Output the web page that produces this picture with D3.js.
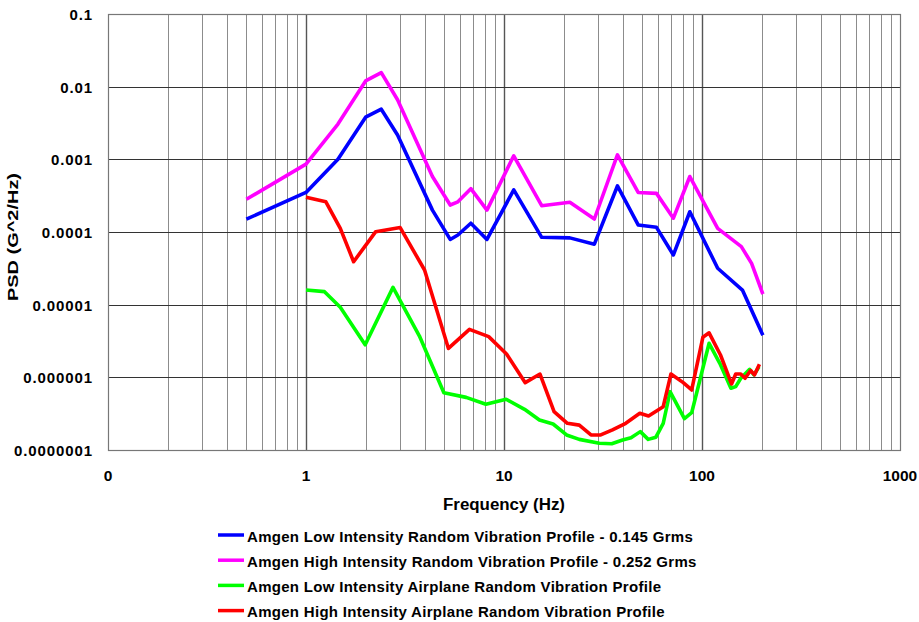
<!DOCTYPE html>
<html>
<head>
<meta charset="utf-8">
<script src="https://cdn.jsdelivr.net/npm/d3@7"></script>
<style>
  body { margin: 0; background: #fff; }
  text { font-family: "Liberation Sans", Arial, sans-serif; font-weight: bold; fill: #000; }
</style>
</head>
<body>
<script>
// x ticks / y ticks
var xTicks = [0.1, 1, 10, 100, 1000];
var xTickLabels = ["0", "1", "10", "100", "1000"];
var yTicks = [0.1, 0.01, 0.001, 0.0001, 0.00001, 0.000001, 0.0000001];
var yTickLabels = ["0.1", "0.01", "0.001", "0.0001", "0.00001", "0.000001", "0.0000001"];

// Amgen Low Intensity Random Vibration Profile - 0.145 Grms
var lowRandomFreq = [0.5, 1, 1.45, 2, 2.4, 2.9, 4.35, 5.35, 5.85, 6.8, 8.2, 11.2, 15.5, 21.5, 28.6, 37.4, 47.6, 58.9, 71.7, 86.8, 120, 160, 203];
var lowRandomPsd = [1.5e-4, 3.5e-4, 1.0e-3, 3.8e-3, 4.9e-3, 2.16e-3, 2.0e-4, 7.9e-5, 9.1e-5, 1.32e-4, 7.9e-5, 3.79e-4, 8.45e-5, 8.3e-5, 6.8e-5, 4.3e-4, 1.25e-4, 1.16e-4, 4.83e-5, 1.9e-4, 3.17e-5, 1.59e-5, 3.8e-6];

// Amgen High Intensity Random Vibration Profile - 0.252 Grms
var highRandomFreq = [0.5, 1, 1.45, 2, 2.4, 2.9, 4.35, 5.35, 5.85, 6.8, 8.2, 11.2, 15.5, 21.5, 28.6, 37.4, 47.6, 58.9, 71.7, 86.8, 120, 158, 178, 203];
var highRandomPsd = [2.82e-4, 8.6e-4, 3.06e-3, 1.2e-2, 1.56e-2, 6.6e-3, 5.8e-4, 2.35e-4, 2.6e-4, 3.95e-4, 2.0e-4, 1.12e-3, 2.3e-4, 2.56e-4, 1.51e-4, 1.15e-3, 3.5e-4, 3.4e-4, 1.55e-4, 5.8e-4, 1.12e-4, 6.3e-5, 3.7e-5, 1.4e-5];

// Amgen Low Intensity Airplane Random Vibration Profile
var lowAirFreq = [1, 1.24, 1.49, 1.99, 2.75, 3.74, 4.97, 6.44, 8.1, 10.25, 12.7, 15.1, 17.7, 20.7, 24, 30.3, 35, 39.7, 43.8, 48.8, 53.5, 58.5, 63.7, 69, 81.5, 88.7, 108.6, 123, 140, 148, 157, 163, 174, 183, 194];
var lowAirPsd = [1.59e-5, 1.51e-5, 9.2e-6, 2.8e-6, 1.73e-5, 3.7e-6, 6.15e-7, 5.3e-7, 4.26e-7, 5.0e-7, 3.63e-7, 2.59e-7, 2.28e-7, 1.61e-7, 1.4e-7, 1.24e-7, 1.22e-7, 1.37e-7, 1.47e-7, 1.79e-7, 1.4e-7, 1.5e-7, 2.33e-7, 6.35e-7, 2.7e-7, 3.26e-7, 2.94e-6, 1.56e-6, 7.07e-7, 7.45e-7, 9.7e-7, 1.08e-6, 1.29e-6, 1.08e-6, 1.4e-6];

// Amgen High Intensity Airplane Random Vibration Profile
var highAirFreq = [1, 1.26, 1.49, 1.74, 2.25, 2.99, 3.97, 5.24, 6.69, 8.37, 10.3, 12.8, 15.2, 17.9, 20.9, 24, 27.5, 30.8, 35.3, 41.2, 48.5, 53.7, 63.7, 69.7, 80.4, 88.7, 101, 108.6, 124, 141, 148, 157, 165, 176, 184, 195];
var highAirPsd = [3.0e-4, 2.6e-4, 1.12e-4, 3.9e-5, 1.01e-4, 1.15e-4, 3.0e-5, 2.5e-6, 4.58e-6, 3.63e-6, 2.1e-6, 8.45e-7, 1.11e-6, 3.37e-7, 2.33e-7, 2.2e-7, 1.61e-7, 1.61e-7, 1.89e-7, 2.33e-7, 3.2e-7, 2.94e-7, 3.95e-7, 1.11e-6, 8.45e-7, 6.7e-7, 3.56e-6, 4.1e-6, 2.03e-6, 8.1e-7, 1.11e-6, 1.11e-6, 9.7e-7, 1.24e-6, 1.08e-6, 1.51e-6];

var seriesNames = [
  "Amgen Low Intensity Random Vibration Profile - 0.145 Grms",
  "Amgen High Intensity Random Vibration Profile - 0.252 Grms",
  "Amgen Low Intensity Airplane Random Vibration Profile",
  "Amgen High Intensity Airplane Random Vibration Profile"
];
var seriesColors = ["#0000ff", "#ff00ff", "#00ff00", "#ff0000"];

function zip(fs, ps) {
  return fs.map(function(f, i) { return {f: f, p: ps[i]}; });
}
var series = [
  zip(lowRandomFreq, lowRandomPsd),
  zip(highRandomFreq, highRandomPsd),
  zip(lowAirFreq, lowAirPsd),
  zip(highAirFreq, highAirPsd)
];

var w = 919, h = 622;
var margin = {left: 108, right: 19, top: 14, bottom: 172};

var x = d3.scaleLog().domain([0.1, 1000]).range([margin.left, w - margin.right]);
var y = d3.scaleLog().domain([0.0000001, 0.1]).range([h - margin.bottom, margin.top]);

var svg = d3.select('body').append("svg").attr("width", w).attr("height", h);

// minor vertical grid
var minor = [];
[0.1, 1, 10, 100].forEach(function(d) {
  for (var k = 2; k <= 9; k++) minor.push(d * k);
});
svg.append("g").selectAll("line").data(minor).enter().append("line")
  .attr("x1", function(d) { return Math.round(x(d)) + 0.5; })
  .attr("x2", function(d) { return Math.round(x(d)) + 0.5; })
  .attr("y1", y(0.1)).attr("y2", y(0.0000001))
  .attr("stroke", "#8c8c8c").attr("stroke-width", 1);

// major vertical grid
svg.append("g").selectAll("line").data([1, 10, 100]).enter().append("line")
  .attr("x1", function(d) { return Math.round(x(d)) + 0.5; })
  .attr("x2", function(d) { return Math.round(x(d)) + 0.5; })
  .attr("y1", y(0.1)).attr("y2", y(0.0000001))
  .attr("stroke", "#555").attr("stroke-width", 1.4);

// horizontal grid
svg.append("g").selectAll("line").data(yTicks.slice(1, -1)).enter().append("line")
  .attr("x1", x(0.1)).attr("x2", x(1000))
  .attr("y1", function(d) { return Math.round(y(d)) + 0.5; })
  .attr("y2", function(d) { return Math.round(y(d)) + 0.5; })
  .attr("stroke", "#333").attr("stroke-width", 1);

// frame
svg.append("rect")
  .attr("x", x(0.1) + 0.5).attr("y", y(0.1) + 0.5)
  .attr("width", x(1000) - x(0.1)).attr("height", y(0.0000001) - y(0.1))
  .attr("fill", "none").attr("stroke", "#777").attr("stroke-width", 1.2);

// y axis labels
svg.append("g").selectAll("text").data(yTicks).enter().append("text")
  .attr("x", 93)
  .attr("y", function(d) { return y(d) + 6; })
  .attr("text-anchor", "end")
  .style("font-size", "15px")
  .style("letter-spacing", "0.9px")
  .text(function(d, i) { return yTickLabels[i]; });

// x axis labels
svg.append("g").selectAll("text").data(xTicks).enter().append("text")
  .attr("x", function(d) { return x(d); })
  .attr("y", 481)
  .attr("text-anchor", "middle")
  .style("font-size", "15.5px")
  .text(function(d, i) { return xTickLabels[i]; });

svg.append("text")
  .attr("x", 443).attr("y", 510)
  .attr("textLength", 122).attr("lengthAdjust", "spacingAndGlyphs")
  .style("font-size", "16px")
  .text("Frequency (Hz)");

svg.append("text")
  .attr("transform", "translate(18,301) rotate(-90)")
  .attr("textLength", 128).attr("lengthAdjust", "spacingAndGlyphs")
  .style("font-size", "14px")
  .text("PSD (G^2/Hz)");

// the lines
var line = d3.line()
  .x(function(d) { return x(d.f); })
  .y(function(d) { return y(d.p); });

svg.append("g").selectAll("path").data(series).enter().append("path")
  .attr("d", line)
  .attr("fill", "none")
  .attr("stroke", function(d, i) { return seriesColors[i]; })
  .attr("stroke-width", 3.6)
  .attr("stroke-linejoin", "round");

// legend
var legend = svg.append("g").selectAll("g").data(seriesNames).enter().append("g")
  .attr("transform", function(d, i) { return "translate(218," + (535 + i * 25.2) + ")"; });
legend.append("line")
  .attr("x1", 0).attr("x2", 26).attr("y1", 0).attr("y2", 0)
  .attr("stroke", function(d, i) { return seriesColors[i]; })
  .attr("stroke-width", 3.5);
legend.append("text")
  .attr("x", 29).attr("y", 6.5)
  .style("font-size", "15px")
  .style("letter-spacing", "0.3px")
  .text(function(d) { return d; });
</script>
</body>
</html>
